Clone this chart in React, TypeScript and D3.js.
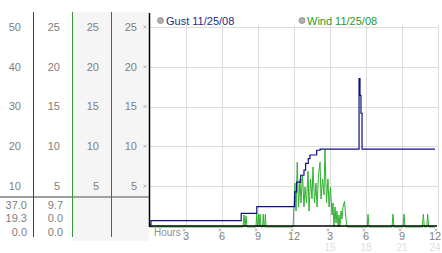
import React from "react";
import * as d3 from "d3";

const gustLabels = [50, 40, 30, 20, 10];
const windLabels = [25, 20, 15, 10, 5];
const gustStats = ["37.0", "19.3", "0.0"];
const windStats = ["9.7", "0.0", "0.0"];
const hourTicks = [3, 6, 9, 12, 15, 18, 21, 24];
const hourLabels = ["3", "6", "9", "12", "3", "6", "9", "12"];
const hourLabels2 = ["", "", "", "", "15", "18", "21", "24"];

const gustHours = [0, 0.08, 7.6, 8.9, 12.05, 12.22, 12.56, 12.83, 12.97, 13.19, 13.33, 13.89, 14.17, 17.42, 17.5, 17.58, 17.67, 23.75];
const gustValues = [0.3, 1.3, 3.1, 4.8, 8.5, 11.0, 12.7, 14.0, 15.7, 16.9, 17.8, 19.0, 19.3, 37.0, 32.8, 28.3, 19.3, 19.3];

const windHours = [
  0, 7.75, 7.83, 7.92, 8.0, 8.08,
  8.83, 8.89, 8.96, 9.03, 9.1, 9.17, 9.25, 9.38, 9.44, 9.5, 9.56, 9.61, 9.67,
  11.92, 12.08, 12.17, 12.27, 12.38, 12.5, 12.58, 12.71, 12.83, 12.92, 13.04, 13.17, 13.25,
  13.38, 13.5, 13.58, 13.71, 13.83, 13.92, 14.04, 14.17, 14.25, 14.38, 14.5, 14.58, 14.71,
  14.83, 14.92, 15.04, 15.17, 15.25, 15.33, 15.42, 15.5, 15.58, 15.67, 15.75, 15.83, 15.92,
  16.0, 16.08, 16.21, 16.33, 16.42,
  18.1, 18.17, 18.25, 20.17, 20.25, 20.33, 21.08, 21.17, 21.25,
  22.7, 22.78, 22.86, 23.06, 23.14, 23.22, 23.75,
];
const windSpeeds = [
  0, 0, 1.5, 0, 1.4, 0,
  0, 1.6, 0, 1.6, 0, 1.6, 0, 0, 1.6, 0, 0, 1.6, 0,
  0, 5.5, 2, 8.1, 2.5, 6, 3, 6.5, 2.5, 5, 3, 7, 2,
  6, 3.5, 7.5, 3, 5.5, 2.5, 6.5, 8.1, 3.5, 6, 4, 9.7, 3,
  6, 2.5, 5, 1.5, 3, 0, 2.5, 0.5, 2, 0, 1.5, 0, 2,
  1, 2.5, 3.2, 1, 0,
  0, 1.6, 0, 0, 1.6, 0, 0, 1.6, 0,
  0, 1.6, 0, 0, 1.6, 0, 0,
];

const FONT = "'Liberation Sans', Arial, sans-serif";

function Mark({ x, y }: { x: number; y: number }) {
  return (
    <g stroke="#aaa" strokeWidth={0.8}>
      <line x1={x - 1.5} y1={y - 1.5} x2={x + 1.5} y2={y + 1.5} />
      <line x1={x - 1.5} y1={y + 1.5} x2={x + 1.5} y2={y - 1.5} />
    </g>
  );
}

export default function App() {
  const x = d3.scaleLinear().domain([0, 24]).range([150, 438]);
  const yG = d3.scaleLinear().domain([0, 50]).range([225.75, 27]);
  const yW = d3.scaleLinear().domain([0, 25]).range([227, 27]);

  const gustLine = d3
    .line<number>()
    .x((_, i) => x(gustHours[i]))
    .y((d) => yG(d))
    .curve(d3.curveStepAfter)(gustValues) as string;
  const windLine = d3
    .line<number>()
    .x((_, i) => x(windHours[i]))
    .y((d) => yW(d))(windSpeeds) as string;

  const colRight = [33, 72, 111, 149];
  const sepColors = ["#2a3f9a", "#3a9a3a", "#a83a3a"];

  return (
    <svg
      width={442}
      height={253}
      style={{ position: "absolute", left: 0, top: 0, background: "#fff" }}
      fontFamily={FONT}
    >
      <rect x={72} y={12} width={77} height={229} fill="#f5f5f5" />
      {[gustLabels, windLabels, windLabels, windLabels].map((labels, c) =>
        labels.map((v, i) => (
          <text
            key={`l${c}-${i}`}
            x={colRight[c] - 12}
            y={yG(gustLabels[i])}
            dy="0.35em"
            textAnchor="end"
            fontSize={11}
            fill="#808080"
          >
            {v}
          </text>
        ))
      )}
      <line x1={0} x2={149} y1={197} y2={197} stroke="#a0a0a0" strokeWidth={2} />
      {gustStats.map((s, i) => (
        <text key={`gs${i}`} x={27} y={205 + i * 13.5} dy="0.35em" textAnchor="end" fontSize={11} fill="#808080">
          {s}
        </text>
      ))}
      {windStats.map((s, i) => (
        <text key={`ws${i}`} x={63} y={205 + i * 13.5} dy="0.35em" textAnchor="end" fontSize={11} fill="#808080">
          {s}
        </text>
      ))}
      {sepColors.map((c, i) => (
        <line key={`sep${i}`} x1={colRight[i] + 0.5} x2={colRight[i] + 0.5} y1={12} y2={237} stroke={c} strokeWidth={1} />
      ))}

      {gustLabels.map((v) => (
        <line key={`hg${v}`} x1={149} x2={438} y1={Math.round(yG(v)) + 0.5} y2={Math.round(yG(v)) + 0.5} stroke="#dcdcdc" />
      ))}
      {hourTicks.map((h) => (
        <line key={`vg${h}`} x1={Math.round(x(h)) + 0.5} x2={Math.round(x(h)) + 0.5} y1={25} y2={226} stroke="#dcdcdc" />
      ))}
      {gustLabels.map((v) => (
        <Mark key={`m${v}`} x={145} y={yG(v)} />
      ))}

      <circle cx={160.5} cy={20.5} r={3} fill="#b0b0b0" stroke="#888" strokeWidth={0.8} />
      <text x={166} y={21} dy="0.35em" fontSize={11} fill="#1c2c8c">
        Gust 11/25/08
      </text>
      <circle cx={302} cy={20.5} r={3} fill="#b0b0b0" stroke="#888" strokeWidth={0.8} />
      <text x={307} y={21} dy="0.35em" fontSize={11} fill="#2a9a2a">
        Wind 11/25/08
      </text>

      <path d={windLine} fill="none" stroke="#30b030" strokeWidth={1} />
      <path d={gustLine} fill="none" stroke="#101080" strokeWidth={1.2} />

      <line x1={149.5} x2={149.5} y1={13} y2={227} stroke="#000" strokeWidth={1.5} />
      <line x1={149} x2={437} y1={226} y2={226} stroke="#000" strokeWidth={1.3} />

      <text x={154} y={232} dy="0.35em" fontSize={10} fill="#909090">
        Hours
      </text>
      {hourTicks.map((h, i) => {
        const cx = Math.min(x(h), 435);
        return (
          <g key={`xt${h}`}>
            <Mark x={x(h) - 2} y={230} />
            <text x={cx} y={236.5} dy="0.35em" textAnchor="middle" fontSize={11} fill="#808080">
              {hourLabels[i]}
            </text>
            <text x={cx} y={247.5} dy="0.35em" textAnchor="middle" fontSize={10} fill="#e0e0e0">
              {hourLabels2[i]}
            </text>
          </g>
        );
      })}
    </svg>
  );
}
